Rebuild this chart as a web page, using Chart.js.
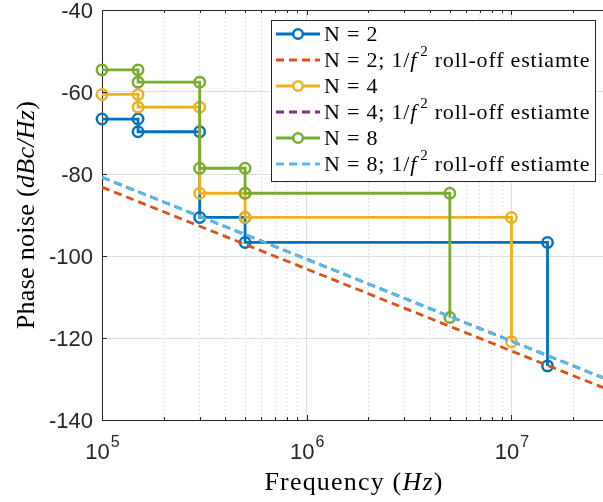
<!DOCTYPE html>
<html>
<head>
<meta charset="utf-8">
<script src="https://cdn.jsdelivr.net/npm/chart.js@4.4.0/dist/chart.umd.min.js"></script>
<style>
  html, body { margin: 0; padding: 0; background: #fff; }
</style>
</head>
<body>
<canvas id="pnChart" width="603" height="502"></canvas>
<script>
// step-wise phase noise profiles (Hz, dBc/Hz)
const freqN2 = [1e5, 1.5e5, 1.5e5, 3e5, 3e5, 5e5, 5e5, 1.5e7, 1.5e7];
const pnN2   = [-66.6, -66.6, -69.7, -69.7, -90.6, -90.6, -96.7, -96.7, -126.8];
const freqN4 = [1e5, 1.5e5, 1.5e5, 3e5, 3e5, 5e5, 5e5, 1e7, 1e7];
const pnN4   = [-60.6, -60.6, -63.7, -63.7, -84.7, -84.7, -90.6, -90.6, -120.9];
const freqN8 = [1e5, 1.5e5, 1.5e5, 3e5, 3e5, 5e5, 5e5, 5e6, 5e6];
const pnN8   = [-54.6, -54.6, -57.6, -57.6, -78.6, -78.6, -84.7, -84.7, -115.0];

// 1/f^2 roll-off estimates (end points)
const freqEst  = [1e5, 2.8e7];
const estN2    = [-83.2, -132.1];
const estN4    = [-80.8, -129.7];
const estN8    = [-80.8, -129.7];

const seriesLabels = [
  'N = 2', 'N = 2; 1/f^2 roll-off estiamte',
  'N = 4', 'N = 4; 1/f^2 roll-off estiamte',
  'N = 8', 'N = 8; 1/f^2 roll-off estiamte'
];
const yTicks = [-140, -120, -100, -80, -60, -40];
const xTicks = [1e5, 2e5, 3e5, 4e5, 5e5, 6e5, 7e5, 8e5, 9e5,
                1e6, 2e6, 3e6, 4e6, 5e6, 6e6, 7e6, 8e6, 9e6,
                1e7, 2e7];

const SANS = '"Liberation Sans", Arial, sans-serif';
const SERIF = '"Liberation Serif", "DejaVu Serif", serif';
const AXIS = '#262626';

const pts = (xs, ys) => xs.map((x, i) => ({ x: x, y: ys[i] }));
const isDecade = v => Math.abs(Math.log10(v) - Math.round(Math.log10(v))) < 1e-9;

function stepSet(label, xs, ys, color, order) {
  return {
    label: label, data: pts(xs, ys), borderColor: color, borderWidth: 2.8,
    pointRadius: 5.2, pointBorderWidth: 2.5, pointBackgroundColor: 'rgba(0,0,0,0)',
    pointBorderColor: color, tension: 0, order: order, clip: false
  };
}
function dashSet(label, xs, ys, color, order) {
  return {
    label: label, data: pts(xs, ys), borderColor: color, borderWidth: 2.8,
    borderDash: [8, 5], pointRadius: 0, tension: 0, order: order
  };
}

// text with italic / superscript runs
function segsFor(str) {
  const m = str.match(/^(.*1\/)f\^(\d)(.*)$/);
  if (!m) return [{ t: str }];
  return [{ t: m[1] }, { t: 'f', it: true }, { t: m[2], sup: true, pre: 3 }, { t: m[3] }];
}
function fontFor(s, size) {
  return (s.it ? 'italic ' : '') + (s.sup ? Math.round(size * 0.7) : size) + 'px ' + SERIF;
}
function richWidth(ctx, segs, size) {
  let w = 0;
  segs.forEach(s => { ctx.font = fontFor(s, size); w += (s.pre || 0) + ctx.measureText(s.t).width; });
  return w;
}
function drawRich(ctx, segs, x, y, size) {
  ctx.textAlign = 'left';
  segs.forEach(s => {
    ctx.font = fontFor(s, size);
    x += s.pre || 0;
    ctx.fillText(s.t, x, s.sup ? y - size * 0.4 : y);
    x += ctx.measureText(s.t).width;
  });
}

const decorations = {
  id: 'decorations',
  afterDraw(chart) {
    const ctx = chart.ctx;
    const a = chart.chartArea;
    const xs = chart.scales.x, ys = chart.scales.y;
    ctx.save();
    ctx.strokeStyle = AXIS;
    ctx.fillStyle = AXIS;
    ctx.lineWidth = 1;

    // top box edge
    ctx.beginPath();
    ctx.moveTo(a.left, a.top + 0.5);
    ctx.lineTo(a.right, a.top + 0.5);
    ctx.stroke();

    // inward ticks
    ctx.beginPath();
    xTicks.forEach(v => {
      const px = Math.round(xs.getPixelForValue(v)) + 0.5;
      const len = isDecade(v) ? 5 : 3;
      ctx.moveTo(px, a.bottom); ctx.lineTo(px, a.bottom - len);
      ctx.moveTo(px, a.top); ctx.lineTo(px, a.top + len);
    });
    yTicks.forEach(v => {
      const py = Math.round(ys.getPixelForValue(v)) + 0.5;
      ctx.moveTo(a.left, py); ctx.lineTo(a.left + 5, py);
    });
    ctx.stroke();

    // y tick labels
    ctx.font = '22px ' + SANS;
    ctx.textAlign = 'right';
    ctx.textBaseline = 'middle';
    yTicks.forEach(v => {
      ctx.fillText(String(v), a.left - 9, ys.getPixelForValue(v) + 2);
    });

    // decade labels 10^n
    ctx.textBaseline = 'alphabetic';
    xTicks.filter(isDecade).forEach(v => {
      const px = xs.getPixelForValue(v);
      const e = String(Math.round(Math.log10(v)));
      ctx.font = '22px ' + SANS;
      const wb = ctx.measureText('10').width;
      ctx.font = '16px ' + SANS;
      const we = ctx.measureText(e).width;
      const x0 = px - (wb + we) / 2;
      ctx.textAlign = 'left';
      ctx.font = '22px ' + SANS;
      ctx.fillText('10', x0, 459);
      ctx.font = '16px ' + SANS;
      ctx.fillText(e, x0 + wb + 1, 447);
    });

    // axis titles
    ctx.fillStyle = '#000';
    ctx.textBaseline = 'alphabetic';
    ctx.letterSpacing = '1.2px';
    const xt = [{ t: 'Frequency (' }, { t: 'Hz', it: true }, { t: ')' }];
    const xw = richWidth(ctx, xt, 26);
    drawRich(ctx, xt, 354 - xw / 2, 490, 26);

    ctx.letterSpacing = '0.3px';
    const yt = [{ t: 'Phase noise (' }, { t: 'dBc/Hz', it: true }, { t: ')' }];
    const yw = richWidth(ctx, yt, 26);
    ctx.save();
    ctx.translate(34, 215);
    ctx.rotate(-Math.PI / 2);
    drawRich(ctx, yt, -yw / 2, 0, 26);
    ctx.restore();

    // legend box
    ctx.letterSpacing = '0.8px';
    const lx = 271, ly = 20, lw = 324, lh = 161;
    ctx.fillStyle = '#fff';
    ctx.fillRect(lx, ly, lw, lh);
    ctx.strokeStyle = AXIS;
    ctx.strokeRect(lx + 0.5, ly + 0.5, lw, lh);
    chart.data.datasets.forEach((ds, i) => {
      const ry = 34 + i * 26;
      ctx.save();
      ctx.strokeStyle = ds.borderColor;
      ctx.lineWidth = 2.8;
      ctx.setLineDash(ds.borderDash || []);
      ctx.beginPath();
      ctx.moveTo(276, ry); ctx.lineTo(320, ry);
      ctx.stroke();
      ctx.setLineDash([]);
      if (ds.pointRadius) {
        ctx.lineWidth = 2.5;
        ctx.beginPath();
        ctx.arc(298, ry, 4.8, 0, Math.PI * 2);
        ctx.fillStyle = '#fff';
        ctx.fill();
        ctx.stroke();
      }
      ctx.restore();
      ctx.fillStyle = '#000';
      ctx.textBaseline = 'middle';
      drawRich(ctx, segsFor(ds.label), 324, ry + 1, 22);
    });
    ctx.letterSpacing = '0px';
    ctx.restore();
  }
};

new Chart(document.getElementById('pnChart').getContext('2d'), {
  type: 'line',
  data: {
    datasets: [
      stepSet(seriesLabels[0], freqN2, pnN2, '#0072BD', 6),
      dashSet(seriesLabels[1], freqEst, estN2, '#D95319', 5),
      stepSet(seriesLabels[2], freqN4, pnN4, '#EDB120', 4),
      dashSet(seriesLabels[3], freqEst, estN4, '#7E2F8E', 3),
      stepSet(seriesLabels[4], freqN8, pnN8, '#77AC30', 2),
      dashSet(seriesLabels[5], freqEst, estN8, '#4DBEEE', 1)
    ]
  },
  options: {
    responsive: false,
    animation: false,
    devicePixelRatio: 1,
    layout: { autoPadding: false, padding: { top: 10, right: 0, left: 0, bottom: 0 } },
    plugins: { legend: { display: false }, tooltip: { enabled: false } },
    scales: {
      x: {
        type: 'logarithmic',
        min: 1e5, max: 2.8e7,
        afterBuildTicks: s => { s.ticks = xTicks.map(v => ({ value: v })); },
        afterFit: s => { s.height = 82; },
        ticks: { display: false },
        grid: {
          drawTicks: false,
          color: c => isDecade(c.tick.value) ? '#dedede' : '#c4c4c4',
          lineWidth: 1
        },
        border: {
          color: AXIS, width: 1,
          dash: c => (c.tick && !isDecade(c.tick.value)) ? [1, 3] : []
        }
      },
      y: {
        min: -140, max: -40,
        afterBuildTicks: s => { s.ticks = yTicks.map(v => ({ value: v })); },
        afterFit: s => { s.width = 102; },
        ticks: { display: false },
        grid: { drawTicks: false, color: '#dedede', lineWidth: 1 },
        border: { color: AXIS, width: 1 }
      }
    }
  },
  plugins: [decorations]
});
</script>
</body>
</html>
